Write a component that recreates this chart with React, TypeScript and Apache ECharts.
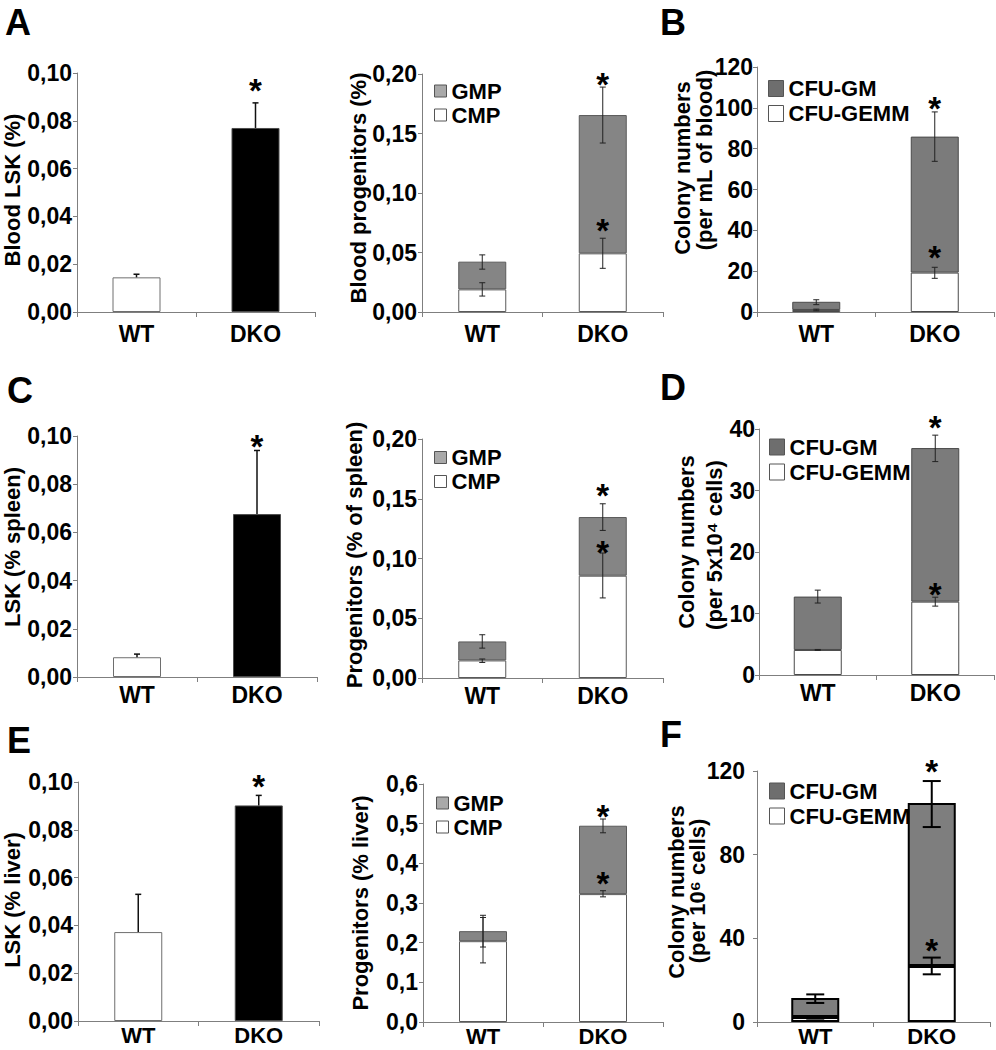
import React, { useEffect, useRef } from 'react';
import * as echarts from 'echarts';

const groups = ['WT', 'DKO'];

// ---- Panel A: blood LSK ----
const bloodLSK = [0.0145, 0.077];
const bloodLSKErrTop = [0.0158, 0.0875];
const bloodLSKStar = [null, 0.0962];

// ---- Panel A: blood progenitors (stacked CMP + GMP) ----
const bloodCMP = [0.019, 0.0493];
const bloodGMP = [0.0233, 0.1162];
const bloodCMPErr = [[0.0134, 0.0246], [0.0367, 0.062]];
const bloodProgErr = [[0.036, 0.048], [0.142, 0.189]];
const bloodProgStarTop = [null, 0.1977];
const bloodProgStarMid = [null, 0.0754];

// ---- Panel B: blood colonies (stacked CFU-GEMM + CFU-GM) ----
const bloodGEMM = [1.0, 19.3];
const bloodGM = [4.0, 66.6];
const bloodGEMMErr = [[0.6, 1.4], [16.5, 21.9]];
const bloodColonyErr = [[3.6, 6.0], [73.8, 98]];
const bloodColonyStarTop = [null, 103.8];
const bloodColonyStarMid = [null, 30.7];

// ---- Panel C: spleen LSK ----
const spleenLSK = [0.0082, 0.0676];
const spleenLSKErrTop = [0.0095, 0.094];
const spleenLSKStar = [null, 0.099];

// ---- Panel C: spleen progenitors ----
const spleenCMP = [0.0147, 0.0856];
const spleenGMP = [0.0159, 0.0491];
const spleenCMPErr = [[0.013, 0.0159], [0.067, 0.1046]];
const spleenProgErr = [[0.025, 0.0362], [0.1235, 0.1458]];
const spleenProgStarTop = [null, 0.159];
const spleenProgStarMid = [null, 0.1115];

// ---- Panel D: spleen colonies ----
const spleenGEMM = [4.07, 11.93];
const spleenGM = [8.68, 24.97];
const spleenGEMMErr = [[4.0, 4.15], [11.2, 12.65]];
const spleenColonyErr = [[11.7, 13.8], [34.7, 39.0]];
const spleenColonyStarTop = [null, 41.5];
const spleenColonyStarMid = [null, 14.4];

// ---- Panel E: liver LSK ----
const liverLSK = [0.0372, 0.0902];
const liverLSKErrTop = [0.053, 0.0944];
const liverLSKStar = [null, 0.1014];

// ---- Panel E: liver progenitors ----
const liverCMP = [0.2037, 0.3224];
const liverGMP = [0.0253, 0.1724];
const liverCMPErr = [[0.149, 0.2635], [0.3155, 0.331]];
const liverProgErr = [[0.189, 0.269], [0.477, 0.5117]];
const liverProgStarTop = [null, 0.5387];
const liverProgStarMid = [null, 0.37];

// ---- Panel F: liver colonies ----
const liverGEMM = [2.4, 26.8];
const liverGM = [9.1, 77.9];
const liverGEMMErr = [[1.6, 2.8], [22.8, 30.8]];
const liverColonyErr = [[9.1, 13.2], [93.2, 115.2]];
const liverColonyStarTop = [null, 123.5];
const liverColonyStarMid = [null, 38.2];

const FONT = "'Liberation Sans', Arial, sans-serif";
const AXIS_GRAY = '#7f7f7f';

function errRender(cap: number, width: number, color: string) {
  return (params: any, api: any) => {
    const i = api.value(0);
    const lo = api.coord([i, api.value(1)]);
    const hi = api.coord([i, api.value(2)]);
    const both = api.value(3) === 1;
    const style = { stroke: color, lineWidth: width, fill: null };
    const children: any[] = [
      { type: 'line', shape: { x1: lo[0], y1: lo[1], x2: hi[0], y2: hi[1] }, style },
      { type: 'line', shape: { x1: hi[0] - cap / 2, y1: hi[1], x2: hi[0] + cap / 2, y2: hi[1] }, style },
    ];
    if (both) {
      children.push({ type: 'line', shape: { x1: lo[0] - cap / 2, y1: lo[1], x2: lo[0] + cap / 2, y2: lo[1] }, style });
    }
    return { type: 'group', children };
  };
}

const starRender = (params: any, api: any) => {
  const p = api.coord([api.value(0), api.value(1)]);
  return {
    type: 'text',
    x: p[0],
    y: p[1] + 8,
    style: { text: '*', fontSize: 33, fontWeight: 'bold', fontFamily: FONT, fill: '#000', align: 'center', verticalAlign: 'middle' },
  };
};

function starData(arr: (number | null)[]) {
  const out: any[] = [];
  arr.forEach((v, i) => { if (v != null) out.push([i, v]); });
  return out;
}

function buildOption() {
  const grid: any[] = [];
  const xAxis: any[] = [];
  const yAxis: any[] = [];
  const series: any[] = [];
  const legend: any[] = [];
  const graphic: any[] = [];

  function axes(rect: number[], max: number, interval: number, decimals: number, yMargin: number, xMargin: number, xFont: number) {
    const i = grid.length;
    grid.push({ left: rect[0], top: rect[1], width: rect[2], height: rect[3], containLabel: false, outerBoundsMode: 'none' });
    xAxis.push({
      type: 'category', gridIndex: i, data: groups,
      axisLine: { show: true, lineStyle: { color: AXIS_GRAY, width: 1 } },
      axisTick: { show: true, length: 5, lineStyle: { color: AXIS_GRAY } },
      axisLabel: { margin: xMargin, color: '#000', fontSize: xFont, fontWeight: 'bold', fontFamily: FONT },
      splitLine: { show: false },
    });
    yAxis.push({
      type: 'value', gridIndex: i, min: 0, max, interval,
      axisLine: { show: true, lineStyle: { color: AXIS_GRAY, width: 1 } },
      axisTick: { show: true, length: 4, lineStyle: { color: AXIS_GRAY } },
      splitLine: { show: false },
      axisLabel: {
        margin: yMargin, color: '#000', fontSize: 23, fontWeight: 'bold', fontFamily: FONT,
        formatter: (v: number) => (decimals ? v.toFixed(decimals).replace('.', ',') : String(Math.round(v))),
      },
    });
    return i;
  }

  function singlePanel(rect: number[], values: number[], errTop: number[], stars: (number | null)[], xMargin: number, xFont: number) {
    const i = axes(rect, 0.1, 0.02, 2, 5, xMargin, xFont);
    series.push({
      type: 'bar', xAxisIndex: i, yAxisIndex: i, barWidth: 48,
      data: values.map((v, k) => ({
        value: v,
        itemStyle: k === 0
          ? { color: '#ffffff', borderColor: '#6e6e6e', borderWidth: 1 }
          : { color: '#000000', borderColor: '#4d4d4d', borderWidth: 1 },
      })),
    });
    series.push({
      type: 'custom', xAxisIndex: i, yAxisIndex: i, z: 5,
      renderItem: errRender(6, 1.5, '#111'),
      data: values.map((v, k) => [k, v, errTop[k], 0]),
    });
    series.push({ type: 'custom', xAxisIndex: i, yAxisIndex: i, z: 6, renderItem: starRender, data: starData(stars) });
  }

  function stackedPanel(cfg: any) {
    const i = axes(cfg.rect, cfg.max, cfg.interval, cfg.decimals, cfg.yMargin, cfg.xMargin, cfg.xFont);
    const stack = 's' + i;
    series.push({
      type: 'bar', name: cfg.lowerName, stack, xAxisIndex: i, yAxisIndex: i, barWidth: 48,
      itemStyle: { color: '#ffffff', borderColor: cfg.border, borderWidth: cfg.borderWidth },
      data: cfg.lower,
    });
    series.push({
      type: 'bar', name: cfg.upperName, stack, xAxisIndex: i, yAxisIndex: i, barWidth: 48,
      itemStyle: { color: cfg.gray, borderColor: cfg.border, borderWidth: cfg.borderWidth },
      data: cfg.upper,
    });
    series.push({
      type: 'custom', xAxisIndex: i, yAxisIndex: i, z: 5,
      renderItem: errRender(cfg.cap, cfg.errWidth, cfg.errColor),
      data: cfg.lowerErr.map((e: number[], k: number) => [k, e[0], e[1], 1]),
    });
    series.push({
      type: 'custom', xAxisIndex: i, yAxisIndex: i, z: 5,
      renderItem: errRender(cfg.cap, cfg.errWidth, cfg.errColor),
      data: cfg.totalErr.map((e: number[], k: number) => [k, e[0], e[1], 1]),
    });
    series.push({
      type: 'custom', xAxisIndex: i, yAxisIndex: i, z: 6, renderItem: starRender,
      data: starData(cfg.starTop).concat(starData(cfg.starMid)),
    });
    legend.push({
      orient: 'vertical', left: cfg.legend[0], top: cfg.legend[1], icon: 'rect',
      itemWidth: cfg.legendIcon[0], itemHeight: cfg.legendIcon[1], itemGap: 1, selectedMode: false,
      textStyle: { fontSize: cfg.legendFont, fontWeight: 'bold', fontFamily: FONT, color: '#000', lineHeight: cfg.legendLine },
      data: [
        { name: cfg.upperName, itemStyle: { color: cfg.legendGray, borderColor: '#555', borderWidth: 1 } },
        { name: cfg.lowerName, itemStyle: { color: '#ffffff', borderColor: '#555', borderWidth: 1 } },
      ],
    });
  }

  // Row 1
  singlePanel([77, 73, 238, 239], bloodLSK, bloodLSKErrTop, bloodLSKStar, 10, 23);
  stackedPanel({
    rect: [422, 74, 241, 238], max: 0.2, interval: 0.05, decimals: 2, yMargin: 5, xMargin: 10, xFont: 23,
    lowerName: 'CMP', upperName: 'GMP', lower: bloodCMP, upper: bloodGMP,
    lowerErr: bloodCMPErr, totalErr: bloodProgErr, starTop: bloodProgStarTop, starMid: bloodProgStarMid,
    gray: '#858585', border: '#5a5a5a', borderWidth: 1, cap: 6, errWidth: 1, errColor: '#222',
    legend: [429, 74.5], legendIcon: [12, 12], legendFont: 22, legendLine: 23, legendGray: '#a9a9a9',
  });
  stackedPanel({
    rect: [757, 67, 237, 245], max: 120, interval: 20, decimals: 0, yMargin: 4, xMargin: 10, xFont: 23,
    lowerName: 'CFU-GEMM', upperName: 'CFU-GM', lower: bloodGEMM, upper: bloodGM,
    lowerErr: bloodGEMMErr, totalErr: bloodColonyErr, starTop: bloodColonyStarTop, starMid: bloodColonyStarMid,
    gray: '#7b7b7b', border: '#4a4a4a', borderWidth: 1, cap: 6, errWidth: 1, errColor: '#222',
    legend: [763, 71.5], legendIcon: [15, 16], legendFont: 22, legendLine: 24, legendGray: '#6e6e6e',
  });

  // Row 2
  singlePanel([77, 436, 240, 241], spleenLSK, spleenLSKErrTop, spleenLSKStar, 6, 23);
  stackedPanel({
    rect: [422, 439, 241, 239], max: 0.2, interval: 0.05, decimals: 2, yMargin: 5, xMargin: 6, xFont: 23,
    lowerName: 'CMP', upperName: 'GMP', lower: spleenCMP, upper: spleenGMP,
    lowerErr: spleenCMPErr, totalErr: spleenProgErr, starTop: spleenProgStarTop, starMid: spleenProgStarMid,
    gray: '#858585', border: '#5a5a5a', borderWidth: 1, cap: 6, errWidth: 1, errColor: '#222',
    legend: [429, 441], legendIcon: [12, 12], legendFont: 22, legendLine: 23, legendGray: '#a9a9a9',
  });
  stackedPanel({
    rect: [759, 429, 235, 246], max: 40, interval: 10, decimals: 0, yMargin: 4, xMargin: 6, xFont: 23,
    lowerName: 'CFU-GEMM', upperName: 'CFU-GM', lower: spleenGEMM, upper: spleenGM,
    lowerErr: spleenGEMMErr, totalErr: spleenColonyErr, starTop: spleenColonyStarTop, starMid: spleenColonyStarMid,
    gray: '#7b7b7b', border: '#4a4a4a', borderWidth: 1, cap: 6, errWidth: 1, errColor: '#222',
    legend: [764, 430], legendIcon: [15, 16], legendFont: 22, legendLine: 24, legendGray: '#6e6e6e',
  });

  // Row 3
  singlePanel([78, 782, 241, 239], liverLSK, liverLSKErrTop, liverLSKStar, 3, 22);
  stackedPanel({
    rect: [423, 784, 240, 238], max: 0.6, interval: 0.1, decimals: 1, yMargin: 5, xMargin: 3, xFont: 22,
    lowerName: 'CMP', upperName: 'GMP', lower: liverCMP, upper: liverGMP,
    lowerErr: liverCMPErr, totalErr: liverProgErr, starTop: liverProgStarTop, starMid: liverProgStarMid,
    gray: '#858585', border: '#5a5a5a', borderWidth: 1, cap: 6, errWidth: 1, errColor: '#222',
    legend: [431, 786.5], legendIcon: [12, 12], legendFont: 22, legendLine: 23, legendGray: '#a9a9a9',
  });
  stackedPanel({
    rect: [757, 771, 233, 251], max: 120, interval: 40, decimals: 0, yMargin: 12, xMargin: 3, xFont: 22,
    lowerName: 'CFU-GEMM', upperName: 'CFU-GM', lower: liverGEMM, upper: liverGM,
    lowerErr: liverGEMMErr, totalErr: liverColonyErr, starTop: liverColonyStarTop, starMid: liverColonyStarMid,
    gray: '#7e7e7e', border: '#000', borderWidth: 2, cap: 18, errWidth: 2, errColor: '#000',
    legend: [764, 774], legendIcon: [15, 16], legendFont: 22, legendLine: 24, legendGray: '#6e6e6e',
  });

  // Panel letters
  const letters: [string, number, number][] = [
    ['A', 5, 22], ['B', 660, 22], ['C', 7, 390], ['D', 660, 387], ['E', 7, 740], ['F', 660, 734],
  ];
  letters.forEach(([t, x, y]) => {
    graphic.push({
      type: 'text', x, y,
      style: { text: t, fontSize: 36, fontWeight: 'bold', fontFamily: FONT, fill: '#000', align: 'left', verticalAlign: 'middle' },
    });
  });

  // Y axis titles
  const yNames: [string, number, number][] = [
    ['Blood LSK (%)', 12, 190],
    ['Blood progenitors (%)', 358, 188],
    ['Colony numbers', 682, 168],
    ['(per mL of blood)', 704, 160],
    ['LSK (% spleen)', 12, 547],
    ['Progenitors (% of spleen)', 354, 555],
    ['Colony numbers', 686, 542],
    ['(per 5x10\u2074 cells)', 714, 545],
    ['LSK (% liver)', 12, 900],
    ['Progenitors (% liver)', 360, 903],
    ['Colony numbers', 676, 892],
    ['(per 10\u2076 cells)', 697, 891],
  ];
  yNames.forEach(([t, x, y]) => {
    graphic.push({
      type: 'text', x, y, rotation: Math.PI / 2,
      style: { text: t, fontSize: 22, fontWeight: 'bold', fontFamily: FONT, fill: '#000', align: 'center', verticalAlign: 'middle' },
    });
  });

  return {
    animation: false,
    backgroundColor: '#ffffff',
    textStyle: { fontFamily: FONT },
    grid, xAxis, yAxis, series, legend, graphic,
  };
}

export default function App() {
  const ref = useRef<HTMLDivElement>(null);
  useEffect(() => {
    document.body.style.margin = '0';
    if (!ref.current) return;
    const chart = echarts.init(ref.current, undefined, { renderer: 'svg' });
    chart.setOption(buildOption() as any);
    return () => chart.dispose();
  }, []);
  return <div ref={ref} style={{ width: 996, height: 1050 }} />;
}
